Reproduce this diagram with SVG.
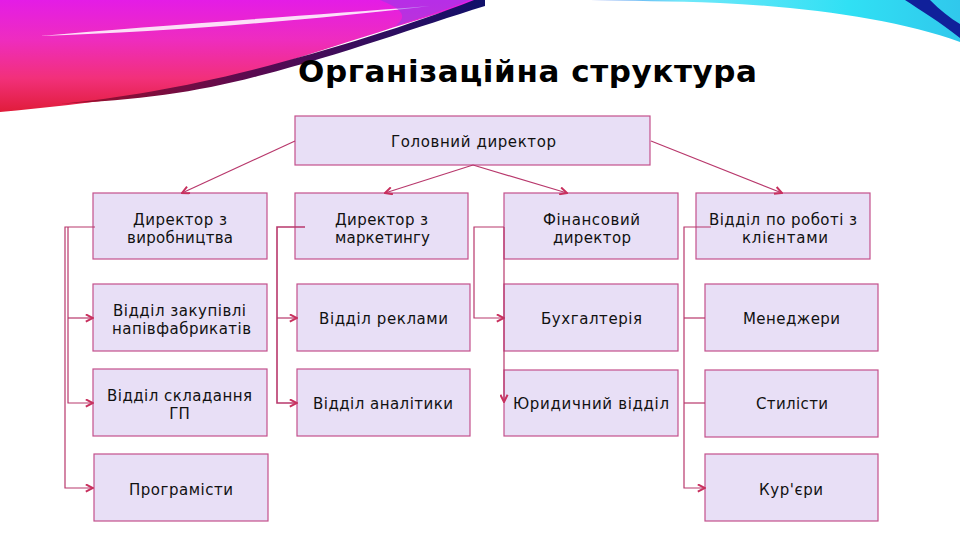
<svg xmlns="http://www.w3.org/2000/svg" width="960" height="540" viewBox="0 0 960 540">
<defs>
<linearGradient id="gPink" x1="0" y1="0" x2="0" y2="1">
<stop offset="0" stop-color="#e41ce6"/>
<stop offset="0.35" stop-color="#ee2cc0"/>
<stop offset="0.7" stop-color="#f2307a"/>
<stop offset="1" stop-color="#e01c3a"/>
</linearGradient>
<linearGradient id="gDark" x1="0" y1="0" x2="1" y2="0">
<stop offset="0" stop-color="#a0102a"/>
<stop offset="0.45" stop-color="#5a0a50"/>
<stop offset="1" stop-color="#10106a"/>
</linearGradient>
<linearGradient id="gCyan" x1="0" y1="0" x2="1" y2="0">
<stop offset="0" stop-color="#7090f0"/>
<stop offset="0.25" stop-color="#70e8fa"/>
<stop offset="0.7" stop-color="#30e0f4"/>
<stop offset="1" stop-color="#30c8ec"/>
</linearGradient>
<marker id="arr" viewBox="0 0 10 10" refX="9" refY="5" markerWidth="9" markerHeight="9" markerUnits="userSpaceOnUse" orient="auto">
<path d="M1,1 L9,5 L1,9" fill="none" stroke="#c8305e" stroke-width="2.2"/>
</marker>
<style>
.box{fill:#e8dff6;stroke:#c4508c;stroke-width:1.2}
.t{font-family:"DejaVu Sans","Verdana",sans-serif;font-size:15px;fill:#111;text-anchor:middle}
.title{font-family:"DejaVu Sans","Liberation Sans",sans-serif;font-weight:bold;font-size:31px;fill:#000}
.c{fill:none;stroke:#b8386c;stroke-width:1.2}
.ca{fill:none;stroke:#b8386c;stroke-width:1.2;marker-end:url(#arr)}
</style>
</defs>
<rect width="960" height="540" fill="#ffffff"/>
<g id="background">
<path d="M0,0 H485 C420,18 340,45 260,70 C180,92 90,104 0,112 Z" fill="url(#gPink)"/>
<path d="M485,0 L474,0 C410,25 330,50 252,70 C180,88 120,98 60,104 C140,100 200,92 262,75 C340,55 420,26 485,6 Z" fill="url(#gDark)"/>
<path d="M40,36 C150,26 300,16 430,6 C310,20 170,32 40,36 Z" fill="#ffffff" opacity="0.85"/>
<path d="M380,0 H470 C445,10 420,18 395,26 C410,16 400,8 380,0 Z" fill="#8a40e8" opacity="0.5"/>
<path d="M590,0 H960 V42 C900,20 810,7 720,3 C670,1 630,1 590,0 Z" fill="url(#gCyan)"/>
<path d="M905,0 H930 C940,10 950,18 960,24 V38 C940,22 920,10 905,0 Z" fill="#10209a"/>
</g>
<text class="title" x="298" y="82" textLength="459">Організаційна структура</text>
<g id="nodes">
<g id="n-head"><rect class="box" x="295" y="116" width="355" height="49"/><text class="t" x="473.5" y="147" textLength="165">Головний директор</text></g>
<g id="n-prod"><rect class="box" x="93" y="193" width="174" height="66"/><text class="t" x="180" y="225" textLength="94">Директор з</text><text class="t" x="180" y="243" textLength="106">виробництва</text></g>
<g id="n-mark"><rect class="box" x="295" y="193" width="173" height="66"/><text class="t" x="381.5" y="225" textLength="93">Директор з</text><text class="t" x="382.5" y="243" textLength="95">маркетингу</text></g>
<g id="n-fin"><rect class="box" x="504" y="193" width="174" height="66"/><text class="t" x="591.5" y="225" textLength="97">Фінансовий</text><text class="t" x="592" y="243" textLength="78">директор</text></g>
<g id="n-client"><rect class="box" x="696" y="193" width="174" height="66"/><text class="t" x="783" y="225" textLength="148">Відділ по роботі з</text><text class="t" x="785" y="243" textLength="86">клієнтами</text></g>
<g id="n-purch"><rect class="box" x="93" y="284" width="174" height="67"/><text class="t" x="179.5" y="316" textLength="133">Відділ закупівлі</text><text class="t" x="181.5" y="334" textLength="139">напівфабрикатів</text></g>
<g id="n-adv"><rect class="box" x="297" y="284" width="173" height="67"/><text class="t" x="383.5" y="324" textLength="129">Відділ реклами</text></g>
<g id="n-acc"><rect class="box" x="504" y="284" width="174" height="67"/><text class="t" x="591.5" y="324" textLength="101">Бухгалтерія</text></g>
<g id="n-man"><rect class="box" x="705" y="284" width="173" height="67"/><text class="t" x="791.5" y="324" textLength="97">Менеджери</text></g>
<g id="n-asm"><rect class="box" x="93" y="369" width="174" height="67"/><text class="t" x="179.5" y="401" textLength="145">Відділ складання</text><text class="t" x="179.5" y="419">ГП</text></g>
<g id="n-anal"><rect class="box" x="297" y="369" width="173" height="67"/><text class="t" x="383" y="409" textLength="140">Відділ аналітики</text></g>
<g id="n-law"><rect class="box" x="504" y="370" width="174" height="66"/><text class="t" x="591" y="409" textLength="156">Юридичний відділ</text></g>
<g id="n-sty"><rect class="box" x="705" y="370" width="173" height="67"/><text class="t" x="792" y="409" textLength="72">Стилісти</text></g>
<g id="n-prog"><rect class="box" x="94" y="454" width="174" height="67"/><text class="t" x="181" y="495" textLength="104">Програмісти</text></g>
<g id="n-cour"><rect class="box" x="705" y="454" width="173" height="67"/><text class="t" x="791" y="495" textLength="64">Кур'єри</text></g>
</g>
<g id="connectors">
<path class="ca" d="M295,141 L182,193"/>
<path class="ca" d="M473,165 L385,193"/>
<path class="ca" d="M473,165 L567,193"/>
<path class="ca" d="M651,141 L782,193"/>
<path class="ca" d="M95,227 H65 V488 H93"/>
<path class="ca" d="M68,227 V403 H93"/>
<path class="ca" d="M68,318 H93"/>
<path class="ca" d="M305,227 H277 V403 H297" style="stroke-width:1.6"/>
<path class="ca" d="M277,318 H297"/>
<path class="ca" d="M504,227 H474 V318 H504"/>
<path class="ca" d="M504,227 V402"/>
<path class="ca" d="M711,227 H684 V488 H705"/>
<path class="c" d="M684,318 H705"/>
<path class="c" d="M684,403 H705"/>
</g>
</svg>
